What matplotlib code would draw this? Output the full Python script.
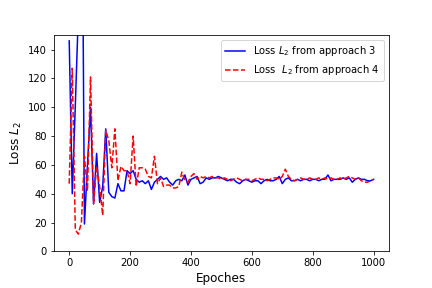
import matplotlib
matplotlib.use('Agg')
import matplotlib.pyplot as plt
import numpy as np

epochs = np.arange(0, 1001, 10)

# approach 3 (blue)
loss3 = [146, 40, 101, 165, 340, 19, 60, 100, 33, 68,
         34, 45, 85, 41, 38, 37, 47, 42, 42, 56,
         54, 56, 50, 48, 49, 47, 49, 43, 48, 50,
         52, 50, 51, 48, 46, 49, 50, 49, 53, 46,
         50, 51, 52, 47, 48, 51, 50, 51, 51, 52,
         51, 50, 49, 50, 50, 48, 47, 49, 50, 49,
         48, 49, 49, 47, 49, 50, 49, 49, 50, 52,
         47, 50, 51, 49, 49, 50, 49, 50, 50, 49,
         50, 50, 49, 50, 50, 53, 49, 50, 50, 50,
         51, 50, 51, 48, 50, 51, 50, 50, 49, 49,
         50]

# approach 4 (red)
loss4 = [47, 127, 15, 12, 20, 66, 42, 121, 33, 59,
         45, 25, 84, 77, 58, 85, 49, 59, 56, 56,
         47, 80, 45, 58, 58, 57, 52, 51, 66, 47,
         51, 45, 46, 46, 44, 44, 45, 55, 49, 48,
         52, 54, 50, 52, 51, 52, 51, 52, 51, 51,
         50, 51, 50, 49, 50, 51, 50, 49, 50, 50,
         49, 50, 51, 50, 50, 49, 50, 51, 51, 50,
         52, 57, 52, 50, 49, 50, 51, 50, 50, 51,
         50, 50, 51, 50, 51, 50, 51, 50, 50, 51,
         50, 51, 52, 51, 50, 51, 49, 48, 48, 49,
         50]

fig = plt.figure(figsize=(6, 4), dpi=72)
fig.subplots_adjust(left=0.125, right=0.9, top=0.878, bottom=0.127)
plt.plot(epochs, loss3, 'b', label='Loss $L_2$ from approach 3')
plt.plot(epochs, loss4, 'r--', label='Loss  $L_2$ from approach 4')
plt.ylim(0, 150)
plt.xlabel('Epoches', fontsize=12)
plt.ylabel('Loss $L_2$', fontsize=12)
plt.legend(loc='upper right')
plt.savefig('out.png', dpi=72)
